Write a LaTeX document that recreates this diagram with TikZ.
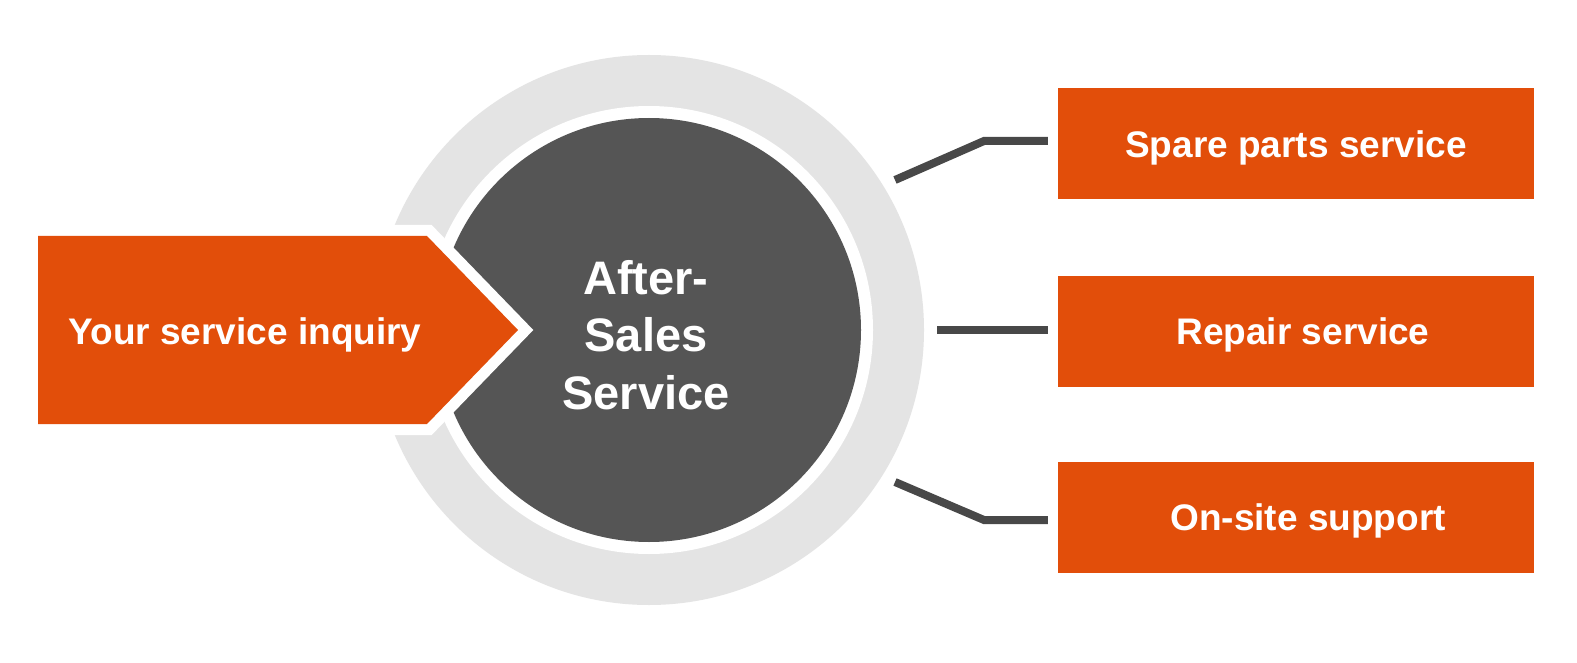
\documentclass[tikz,border=0pt]{standalone}
\usepackage{fontspec}
\setmainfont{Liberation Sans}
\usetikzlibrary{calc}
\definecolor{org}{RGB}{226,78,10}
\definecolor{ringgray}{RGB}{228,228,228}
\definecolor{darkc}{RGB}{85,85,85}
\definecolor{conn}{RGB}{72,72,72}
\begin{document}
\begin{tikzpicture}[x=1pt,y=-1pt,
  lbl/.style={text=white, inner sep=0pt, text height=27pt, text depth=0pt, font=\bfseries\fontsize{37}{44}\selectfont},
  boxnode/.style={fill=org, minimum width=476pt, minimum height=111pt, inner sep=0pt},
  link/.style={draw=conn, line width=8pt, shorten >=10pt}]
\useasboundingbox[fill=white] (0,0) rectangle (1577,663);
% ring
\fill[ringgray] (649,330) circle[radius=275pt];
\fill[white] (649,330) circle[radius=224pt];
% central circle
\node[circle, fill=darkc, minimum size=424pt, inner sep=0pt,
      label={[text=white, align=center, xshift=-3pt, yshift=-5pt,
              font=\bfseries\fontsize{47}{57.5}\selectfont]center:After-\\Sales\\Service}] (svc) at (649,330) {};
% inquiry arrow
\fill[org, preaction={draw=white, line width=22pt, line join=miter}]
  (38,236) -- (427,236) -- (518,330) -- (427,424) -- (38,424) -- cycle;
\node[lbl] (inq) at (245,331) {Your service inquiry};
% boxes
\node[boxnode, label={[lbl]center:Spare parts service}] (b1) at (1296,144) {};
\node[boxnode, label={[lbl, xshift=7pt]center:Repair service}] (b2) at (1296,331) {};
\node[boxnode, label={[lbl, xshift=12pt]center:On-site support}] (b3) at (1296,517) {};
% connectors
\coordinate (s1) at (895,180);
\coordinate (k1) at (984,141);
\coordinate (s2) at (937,330);
\coordinate (s3) at (895,482);
\coordinate (k3) at (984,520);
\draw[link] (s1) -- (k1) -- (k1 -| b1.west);
\draw[link] (s2) -- (s2 -| b2.west);
\draw[link] (s3) -- (k3) -- (k3 -| b3.west);
\end{tikzpicture}
\end{document}
